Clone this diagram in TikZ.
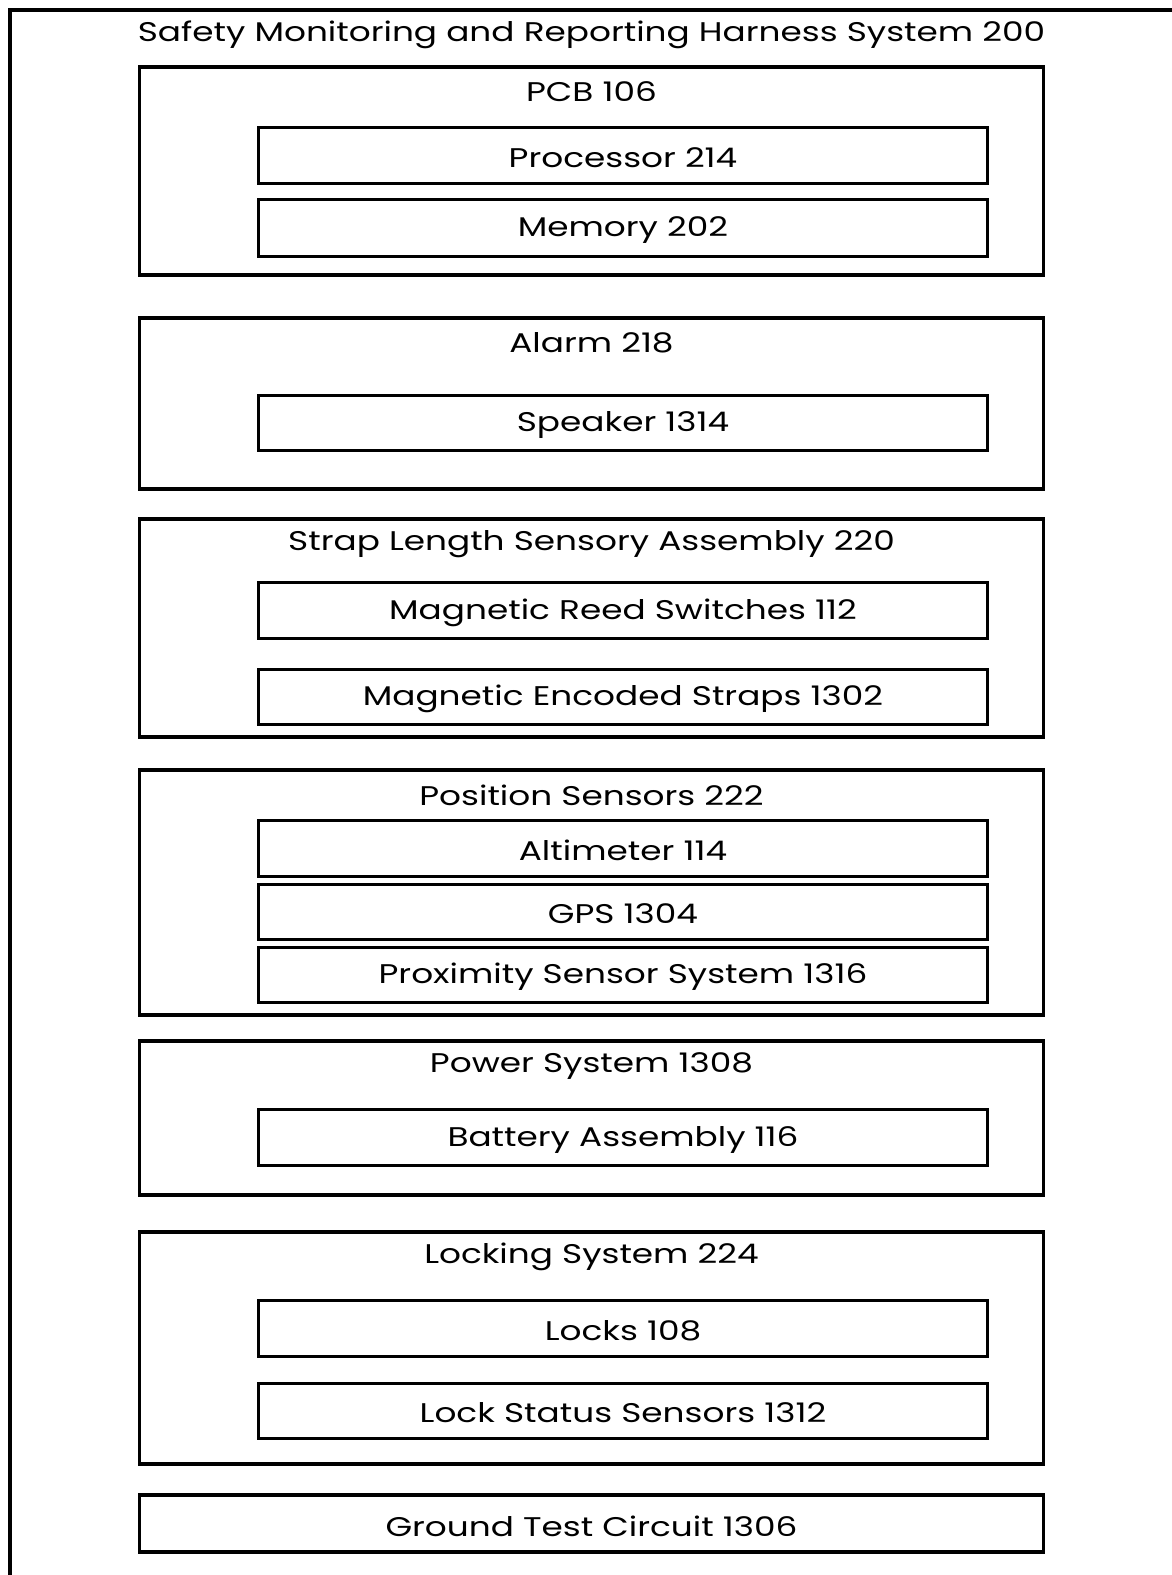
\documentclass[tikz,border=0pt]{standalone}
\usepackage{fontspec}
\setmainfont{Poppins}[FakeStretch=1.27]
\begin{document}
\begin{tikzpicture}[x=1pt,y=-1pt,
  obox/.style={draw=black,line width=3.5pt,minimum width=904pt,inner sep=0pt,outer sep=0pt},
  ibox/.style={draw=black,line width=3pt,minimum width=729pt,inner sep=0pt,outer sep=0pt},
  ttl/.style={inner sep=0pt,font=\fontsize{27}{30}\selectfont}]
\useasboundingbox (0,0) rectangle (1172,1575);
\newcommand\outerbox[4]{%
  \node[obox,minimum height={#3-#2}] (#1) at (591.5,{(#2+#3)/2}) {};
  \node[ttl] (#1-t) at (591.5,{#2+25}) {#4};}
\newcommand\innerbox[4]{%
  \node[ibox,minimum height={#3-#2}] (#1) at (623,{(#2+#3)/2}) {};
  \node[ttl] (#1-t) at (623,{(#2+#3)/2+2.5}) {#4};}
% outer frame
\coordinate (fTR) at (1172,9.5);
\coordinate (fTL) at (9.5,9.5);
\coordinate (fBL) at (9.5,1575);
\draw[line width=4pt] (fTR) -- (fTL) -- (fBL);
\node[ttl] (title) at (591.5,35) {Safety Monitoring and Reporting Harness System 200};
% PCB
\outerbox{pcb}{67}{275}{PCB 106}
\innerbox{proc}{127}{183}{Processor 214}
\innerbox{mem}{199}{256}{Memory 202}
% Alarm
\outerbox{alarm}{318}{489}{Alarm 218}
\innerbox{spk}{395}{450}{Speaker 1314}
% Strap
\outerbox{strap}{519}{737}{Strap Length Sensory Assembly 220}
\innerbox{reed}{582}{638}{Magnetic Reed Switches 112}
\innerbox{enc}{669}{724}{Magnetic Encoded Straps 1302}
% Position
\outerbox{pos}{770}{1015}{Position Sensors 222}
\innerbox{alt}{820}{876}{Altimeter 114}
\innerbox{gps}{884}{939}{GPS 1304}
\innerbox{prox}{947}{1002}{Proximity Sensor System 1316}
% Power
\outerbox{pow}{1041}{1195}{Power System 1308}
\innerbox{bat}{1109}{1165}{Battery Assembly 116}
% Locking
\outerbox{lock}{1232}{1464}{Locking System 224}
\innerbox{locks}{1300}{1356}{Locks 108}
\innerbox{lstat}{1383}{1438}{Lock Status Sensors 1312}
% Ground
\node[obox,minimum height=57pt] (gnd) at (591.5,1523.5) {};
\node[ttl] (gnd-t) at (591.5,1526) {Ground Test Circuit 1306};
\end{tikzpicture}
\end{document}
